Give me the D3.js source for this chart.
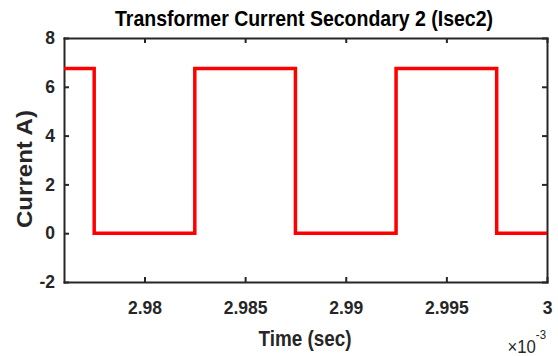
<!DOCTYPE html>
<meta charset='utf-8'>
<style>
body { margin: 0; background: #fff; }
svg text { font-family: 'Liberation Sans', Arial, sans-serif; font-weight: bold; fill: #262626; }
.axis path, .axis line { stroke: #262626; stroke-width: 2; }
</style>
<body>
<script src='https://cdn.jsdelivr.net/npm/d3@7'></script>
<script>
'use strict'
// Data - square wave of secondary current (time in ms, shown x10^-3 s)
let time_ms = [2.976, 2.9775, 2.9775, 2.9825, 2.9825, 2.9875, 2.9875, 2.9925, 2.9925, 2.9975, 2.9975, 3.0],
	current_a = [6.75, 6.75, 0, 0, 6.75, 6.75, 0, 0, 6.75, 6.75, 0, 0],
	x_ticks = [2.98, 2.985, 2.99, 2.995, 3],
	y_ticks = [-2, 0, 2, 4, 6, 8]

let margin = {top: 38, right: 11, bottom: 74, left: 64},
	W = 558, H = 356,
	width = W - margin.left - margin.right,
	height = H - margin.top - margin.bottom

let svg = d3.select('body').append('svg').attr('width', W).attr('height', H),
	vis = svg.append('g').attr('transform', `translate(${margin.left},${margin.top})`)

let x = d3.scaleLinear([2.976, 3.0], [0, width]),
	y = d3.scaleLinear([-2, 8], [height, 0])

let fmt = d => String(+d.toFixed(3))

vis.append('g').attr('class', 'axis')
	.attr('transform', `translate(0,${height})`)
	.call(d3.axisBottom(x).tickValues(x_ticks).tickSizeInner(-5).tickSizeOuter(0).tickPadding(19.5).tickFormat(fmt))
vis.append('g').attr('class', 'axis')
	.call(d3.axisTop(x).tickValues(x_ticks).tickSizeInner(-5).tickSizeOuter(0).tickFormat(''))
vis.append('g').attr('class', 'axis')
	.call(d3.axisLeft(y).tickValues(y_ticks).tickSizeInner(-5).tickSizeOuter(0).tickPadding(9).tickFormat(fmt))
vis.append('g').attr('class', 'axis')
	.attr('transform', `translate(${width},0)`)
	.call(d3.axisRight(y).tickValues(y_ticks).tickSizeInner(-5).tickSizeOuter(0).tickFormat(''))
vis.selectAll('.axis').attr('font-size', null).attr('font-family', null)
vis.selectAll('.axis .domain').attr('stroke-linecap', 'square')
vis.selectAll('.axis text').attr('fill', null).style('font-size', '17.5px')

let pts = time_ms.map((t, i) => [t, current_a[i]])
vis.append('path')
	.datum(pts)
	.attr('fill', 'none')
	.attr('stroke', '#ff0000')
	.attr('stroke-width', 3.5)
	.attr('d', d3.line().x(d => x(d[0])).y(d => y(d[1])))

// Labels (narrow look via textLength)
svg.append('text')
	.attr('x', 304).attr('y', 26)
	.attr('text-anchor', 'middle').style('font-size', '22px').style('fill', '#000')
	.attr('textLength', 378).attr('lengthAdjust', 'spacingAndGlyphs')
	.text('Transformer Current Secondary 2 (Isec2)')

svg.append('text')
	.attr('x', 305).attr('y', 346)
	.attr('text-anchor', 'middle').style('font-size', '22px')
	.attr('textLength', 93).attr('lengthAdjust', 'spacingAndGlyphs')
	.text('Time (sec)')

svg.append('text')
	.attr('transform', `translate(32,169) rotate(-90)`)
	.attr('text-anchor', 'middle').style('font-size', '22px')
	.attr('textLength', 118).attr('lengthAdjust', 'spacingAndGlyphs')
	.text('Current A)')

let mult = svg.append('text')
	.attr('transform', 'translate(546,353) scale(0.88,1)')
	.attr('text-anchor', 'end').style('font-size', '19px').style('font-weight', 'normal')
mult.append('tspan').text('×10')
mult.append('tspan').attr('dy', -14).style('font-size', '13px').text('-3')
</script>
</body>
